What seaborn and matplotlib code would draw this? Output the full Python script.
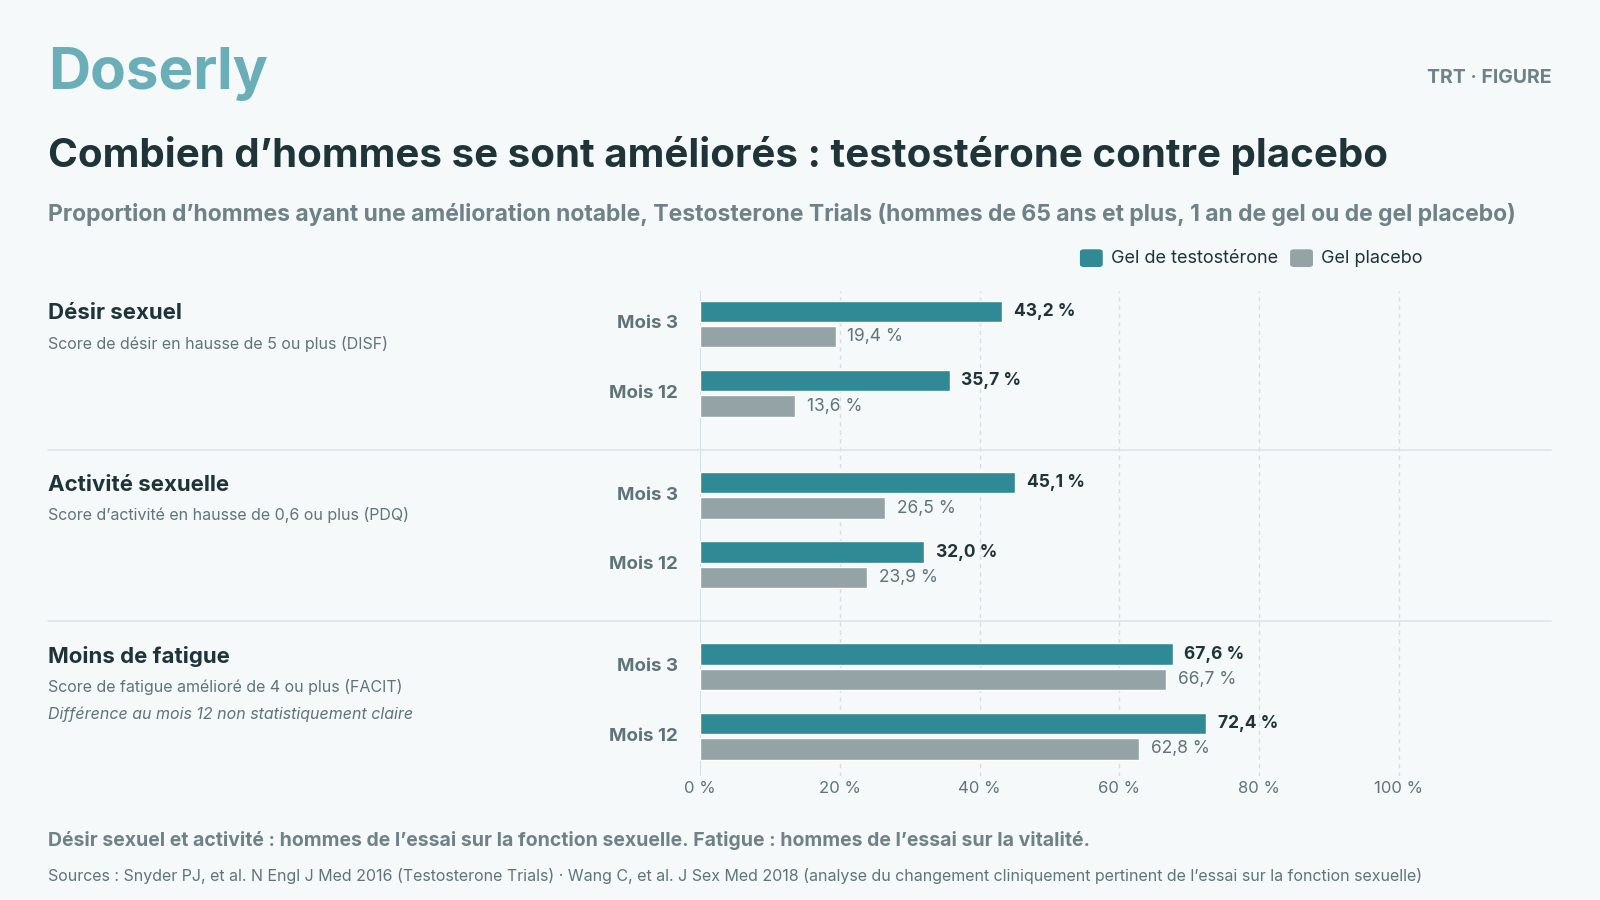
import matplotlib
matplotlib.use("Agg")
import matplotlib.pyplot as plt
import seaborn as sns
from matplotlib.lines import Line2D

groups = ["Désir sexuel", "Activité sexuelle", "Moins de fatigue"]
group_notes = ["Score de désir en hausse de 5 ou plus (DISF)",
               "Score d’activité en hausse de 0,6 ou plus (PDQ)",
               "Score de fatigue amélioré de 4 ou plus (FACIT)"]
months = ["Mois 3", "Mois 12"]
testo = [[43.2, 35.7], [45.1, 32.0], [67.6, 72.4]]
placebo = [[19.4, 13.6], [26.5, 23.9], [66.7, 62.8]]
xticks = [0, 20, 40, 60, 80, 100]

sns.set_theme(style="white")
plt.rcParams['font.family'] = ['Inter', 'DejaVu Sans']

BG = "#F5F9FA"; TEAL = "#2F8A95"; GRAY = "#94A3A5"; DARK = "#1E3439"; MID = "#5F7479"
W, H = 1568, 882
fig = plt.figure(figsize=(16, 9), dpi=100, facecolor=BG)
fx = lambda x: x / W
fy = lambda y: 1 - y / H

ax = fig.add_axes([fx(686), fy(760), fx(1520) - fx(686), fy(285) - fy(760)])
ax.set_facecolor(BG)
ax.set_xlim(0, 100 * (1520 - 686) / (1371 - 686))
ax.set_ylim(760, 285)
for s in ax.spines.values():
    s.set_visible(False)
for t in xticks[1:]:
    ax.axvline(t, color="#D5DEE0", lw=1, ls=(0, (3, 3)), zorder=0)
ax.axvline(0, color="#C9DCDF", lw=1.2, zorder=0)
ax.set_xticks(xticks)
ax.set_xticklabels([f"{t} %" for t in xticks], color=MID, fontsize=12)
ax.tick_params(axis="x", length=0, pad=4)
ax.set_yticks([])

bh = 21
for g in range(3):
    for m in range(2):
        c = 317.5 + g * 168 + m * 68
        yt, yp = c - 12.5, c + 12.5
        ax.barh(yt, testo[g][m], height=bh, color=TEAL, zorder=2)
        ax.barh(yp, placebo[g][m], height=bh, color=GRAY, zorder=2)
        ax.text(testo[g][m] + 1.7, yt, f"{testo[g][m]:.1f} %".replace(".", ","),
                va="center", ha="left", fontsize=12.5, fontweight="bold", color=DARK)
        ax.text(placebo[g][m] + 1.7, yp, f"{placebo[g][m]:.1f} %".replace(".", ","),
                va="center", ha="left", fontsize=12.5, color=MID)
        fig.text(fx(664), fy(c), months[m], ha="right", va="center",
                 fontsize=13.5, fontweight="bold", color=MID)
    gy = 307 + g * 168
    fig.text(fx(47), fy(gy), groups[g], ha="left", va="center",
             fontsize=16, fontweight="bold", color=DARK)
    fig.text(fx(47), fy(gy + 30), group_notes[g], ha="left", va="center",
             fontsize=11.5, color=MID)
fig.text(fx(47), fy(700), "Différence au mois 12 non statistiquement claire",
         ha="left", va="center", fontsize=11.5, style="italic", color=MID)

for y in (441, 609):
    fig.add_artist(Line2D([fx(47), fx(1520)], [fy(y), fy(y)], color="#DCE5E7", lw=1.2))

fig.text(fx(47), fy(73), "Doserly", ha="left", va="center", fontsize=42,
         fontweight="bold", color="#6AAEB7")
fig.text(fx(1520), fy(76), "TRT · FIGURE", ha="right", va="center", fontsize=14,
         fontweight="bold", color="#6F8287")
fig.text(fx(47), fy(152), "Combien d’hommes se sont améliorés : testostérone contre placebo",
         ha="left", va="center", fontsize=29, fontweight="bold", color=DARK)
fig.text(fx(47), fy(210), "Proportion d’hommes ayant une amélioration notable, Testosterone Trials (hommes de 65 ans et plus, 1 an de gel ou de gel placebo)",
         ha="left", va="center", fontsize=16.5, fontweight="bold", color="#6F8287")

# legend
from matplotlib.patches import FancyBboxPatch
for x0, col, lab in [(1059, TEAL, "Gel de testostérone"), (1265, GRAY, "Gel placebo")]:
    fig.add_artist(FancyBboxPatch((fx(x0), fy(261)), fx(21), fy(245) - fy(261),
                                  boxstyle="round,pad=0,rounding_size=0.002", color=col))
    fig.text(fx(x0 + 30), fy(253), lab, ha="left", va="center", fontsize=13, color=DARK)

fig.text(fx(47), fy(824), "Désir sexuel et activité : hommes de l’essai sur la fonction sexuelle. Fatigue : hommes de l’essai sur la vitalité.",
         ha="left", va="center", fontsize=14, fontweight="bold", color="#6F8287")
fig.text(fx(47), fy(858), "Sources : Snyder PJ, et al. N Engl J Med 2016 (Testosterone Trials) · Wang C, et al. J Sex Med 2018 (analyse du changement cliniquement pertinent de l’essai sur la fonction sexuelle)",
         ha="left", va="center", fontsize=11.5, color=MID)

fig.savefig("out.png", dpi=100, facecolor=BG)
